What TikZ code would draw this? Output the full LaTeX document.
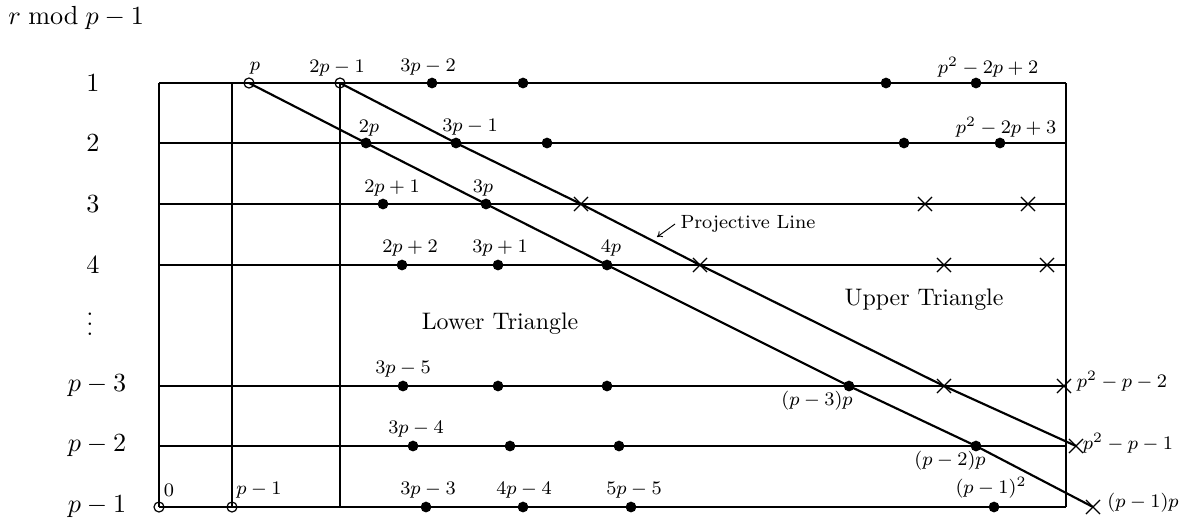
\documentclass[tikz,border=0pt]{standalone}
\usetikzlibrary{shapes.misc,arrows.meta}
\pgfdeclarelayer{bg}
\pgfsetlayers{bg,main}
\begin{document}
\begin{tikzpicture}[x=0.4184pt,y=-0.4184pt,
  dot/.style={circle,fill=black,inner sep=0pt,minimum size=4.5pt},
  odot/.style={circle,draw=black,line width=0.5pt,inner sep=0pt,minimum size=4.2pt},
  xmark/.style={cross out,draw=black,line width=0.5pt,inner sep=0pt,minimum size=5.4pt},
  lab/.style={font=\footnotesize,inner sep=0pt},
  rowlab/.style={font=\fontsize{11}{13}\selectfont,inner sep=0pt},
  region/.style={font=\normalsize,inner sep=0pt},
  gridline/.style={line width=0.6pt},
  heavy/.style={line width=1.1pt},
  diag/.style={line width=0.9pt},
  pointer/.style={line width=0.4pt,-{To[length=2.2pt,width=3pt]}}]
\useasboundingbox (0,0) rectangle (1202,522);

% title and row labels
\node[anchor=base west,inner sep=0pt,font=\fontsize{11}{13}\selectfont] (title) at (8,24) {$r \bmod p-1$};
\node[rowlab] (r1) at (93,83) {$1$};
\node[rowlab] (r2) at (93,143) {$2$};
\node[rowlab] (r3) at (93,204) {$3$};
\node[rowlab] (r4) at (93,265) {$4$};
\node[rowlab] (rd) at (90,317) {$\vdots$};
\node[rowlab] (r5) at (97,386) {$p-3$};
\node[rowlab] (r6) at (97,446) {$p-2$};
\node[rowlab] (r7) at (97,507) {$p-1$};

% grid end points
\coordinate (L1) at (159,83);  \coordinate (R1) at (1066,83);
\coordinate (L2) at (159,143); \coordinate (R2) at (1066,143);
\coordinate (L3) at (159,204); \coordinate (R3) at (1066,204);
\coordinate (L4) at (159,265); \coordinate (R4) at (1066,265);
\coordinate (L5) at (159,386); \coordinate (R5) at (1066,386);
\coordinate (L6) at (159,446); \coordinate (R6) at (1066,446);
\coordinate (L7) at (159,507); \coordinate (R7) at (1066,507);
\coordinate (A1) at (232,83);
\coordinate (B7) at (340,507);

% row 1
\node[odot] (op) at (249,83) {};
\node[odot] (o2pm1) at (340,83) {};
\node[dot] (d3pm2) at (432,83) {};
\node[dot] (d1b) at (523,83) {};
\node[dot] (d1c) at (886,83) {};
\node[dot] (d1d) at (976,83) {};
% row 2
\node[dot] (d2p) at (366,143) {};
\node[dot] (d3pm1) at (456,143) {};
\node[dot] (d2c) at (547,143) {};
\node[dot] (d2d) at (904,143) {};
\node[dot] (d2e) at (1000,143) {};
% row 3
\node[dot] (d2pp1) at (383,204) {};
\node[dot] (d3p) at (486,204) {};
\node[xmark] (x3a) at (581,204) {};
\node[xmark] (x3b) at (925,204) {};
\node[xmark] (x3c) at (1028,204) {};
% row 4
\node[dot] (d2pp2) at (402,265) {};
\node[dot] (d3pp1) at (498,265) {};
\node[dot] (d4p) at (607,265) {};
\node[xmark] (x4a) at (700,265) {};
\node[xmark] (x4b) at (944,265) {};
\node[xmark] (x4c) at (1047,265) {};
% row p-3
\node[dot] (d3pm5) at (403,386) {};
\node[dot] (d5b) at (498,386) {};
\node[dot] (d5c) at (607,386) {};
\node[dot] (dp3p) at (849,386) {};
\node[xmark] (x5a) at (944,386) {};
\node[xmark] (x5b) at (1064,386) {};
% row p-2
\node[dot] (d3pm4) at (413,446) {};
\node[dot] (d6b) at (510,446) {};
\node[dot] (d6c) at (619,446) {};
\node[dot] (dp2p) at (976,446) {};
\node[xmark] (x6) at (1076,446) {};
% row p-1
\node[odot] (o0) at (159,507) {};
\node[odot] (opm1) at (232,507) {};
\node[dot] (d3pm3) at (426,507) {};
\node[dot] (d4pm4) at (523,507) {};
\node[dot] (d5pm5) at (631,507) {};
\node[dot] (dpm1sq) at (994,507) {};
\node[xmark] (xpm1p) at (1093,507) {};

% point labels
\node[lab] (lp) at (255,68) {$p$};
\node[lab] (l2pm1) at (337,68) {$2p-1$};
\node[lab] (l3pm2) at (428,67) {$3p-2$};
\node[lab] (l1d) at (988,67) {$p^2-2p+2$};
\node[lab] (l2p) at (369,128) {$2p$};
\node[lab] (l3pm1) at (470,127) {$3p-1$};
\node[lab] (l2e) at (1006,127) {$p^2-2p+3$};
\node[lab] (l2pp1) at (392,188) {$2p+1$};
\node[lab] (l3p) at (483,188) {$3p$};
\node[lab] (l2pp2) at (410,248) {$2p+2$};
\node[lab] (l3pp1) at (500,248) {$3p+1$};
\node[lab] (l4p) at (611,248) {$4p$};
\node[lab] (l3pm5) at (403,369) {$3p-5$};
\node[lab] (lp3p) at (817,401) {$(p-3)p$};
\node[lab] (lx5b) at (1122,381) {$p^2-p-2$};
\node[lab] (l3pm4) at (416,429) {$3p-4$};
\node[lab] (lp2p) at (950,461) {$(p-2)p$};
\node[lab] (lx6) at (1128,443) {$p^2-p-1$};
\node[lab] (l0) at (169,490) {$0$};
\node[lab] (lpm1) at (259,490) {$p-1$};
\node[lab] (l3pm3) at (428,490) {$3p-3$};
\node[lab] (l4pm4) at (524,490) {$4p-4$};
\node[lab] (l5pm5) at (634,490) {$5p-5$};
\node[lab] (lpm1sq) at (991,488) {$(p-1)^2$};
\node[lab] (lpm1p) at (1143,503) {$(p-1)p$};

% region labels
\node[region] (lower) at (500,324) {Lower Triangle};
\node[region] (upper) at (924,300) {Upper Triangle};
\node[font=\footnotesize,anchor=west,inner sep=2.1pt] (proj) at (675,224) {Projective Line};
\coordinate (projtip) at (657,237);
\draw[pointer] (proj.west) -- (projtip);

\begin{pgfonlayer}{bg}
  % verticals
  \draw[gridline] (L1) -- (L7);
  \draw[gridline] (A1) -- (opm1.center);
  \draw[gridline] (o2pm1.center) -- (B7);
  \draw[gridline] (R1) -- (R7);
  % rows
  \draw[gridline] (L1) -- (o2pm1.center);
  \draw[heavy] (o2pm1.center) -- (R1);
  \draw[gridline] (L2) -- (d3pm1.center);
  \draw[heavy] (d3pm1.center) -- (R2);
  \draw[gridline] (L3) -- (R3);
  \draw[gridline] (L4) -- (R4);
  \draw[gridline] (L5) -- (R5);
  \draw[gridline] (L6) -- (R6);
  \draw[gridline] (L7) -- (R7);
  % diagonals
  \draw[diag] (op.center) -- (d2p.center) -- (d3p.center) -- (d4p.center)
     -- (dp3p.center) -- (dp2p.center) -- (xpm1p.center);
  \draw[diag] (o2pm1.center) -- (d3pm1.center) -- (x3a.center) -- (x4a.center)
     -- (x5a.center) -- (x6.center);
\end{pgfonlayer}
\end{tikzpicture}
\end{document}
